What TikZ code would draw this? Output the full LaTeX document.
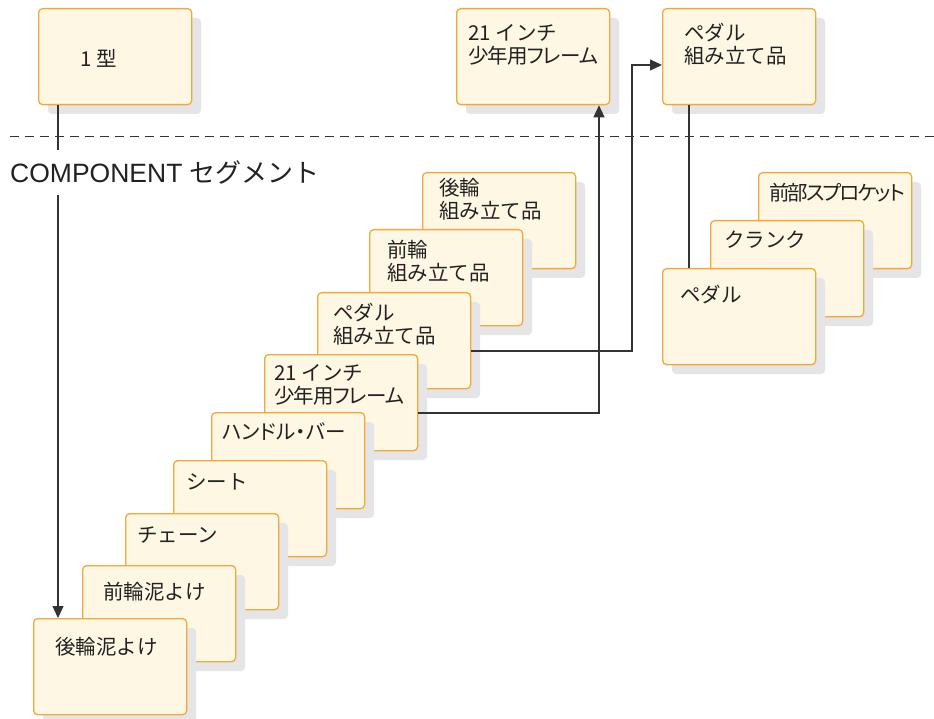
\documentclass[tikz,border=0pt]{standalone}
\usepackage{fontspec}
\setmainfont{Liberation Sans}
\newfontfamily\jp{Noto Sans CJK JP}
\newfontfamily\jpp{Noto Sans CJK JP}[RawFeature=+palt]
\newfontfamily\jppa{Noto Sans CJK JP}[RawFeature=+palt, LetterSpace=-4.5]
\newfontfamily\jppb{Noto Sans CJK JP}[RawFeature=+palt, LetterSpace=-9.5]
\usetikzlibrary{arrows.meta}
\definecolor{boxfill}{HTML}{FDF7E4}
\definecolor{boxline}{HTML}{F0AA3C}
\definecolor{shade}{HTML}{E5E5E7}
\definecolor{ink}{HTML}{222222}
\definecolor{wirec}{HTML}{333333}
\tikzset{
 pbox/.style={draw=boxline, fill=boxfill, line width=1.3pt, rounded corners=4pt, minimum width=153pt, minimum height=96pt, inner sep=0pt, anchor=north west},
 pshadow/.style={fill=shade, rounded corners=4pt},
 ptext/.style={font=\jp\fontsize{20.5}{23}\selectfont, text=ink, inner sep=0pt, align=left, anchor=west},
 wire/.style={draw=wirec, line width=1.1pt},
 arr/.style={wire, -{Triangle[length=12pt,width=11pt]}},
}
\newcommand\partbox[6]{%
 \fill[pshadow] (#2+10,#3+10) rectangle ++(153,96);
 \node[pbox] (#1) at (#2,#3) {};
 \node[ptext] (#1-t) at (#4,#5) {#6};
}
\newcommand\pk[1]{{\jpp\fontsize{20.5}{23}\selectfont #1}}
\newcommand\pka[1]{{\jppa\fontsize{20.5}{23}\selectfont #1}}
\newcommand\pkb[1]{{\jppb\fontsize{20.5}{23}\selectfont #1}}
\begin{document}
\begin{tikzpicture}[x=1pt,y=-1pt]
\useasboundingbox[fill=white] (0,0) rectangle (934,719);
% top row
\partbox{type1}{38}{8}{80}{58}{1 型}
\partbox{frameTop}{456}{8}{468}{45}{21 インチ\\\pka{少年用フレーム}}
\partbox{pedTop}{662}{8}{684}{44}{ペダル\\組み立て品}
% separator
\draw[wirec, line width=1pt, dash pattern=on 9pt off 6pt] (10,137) -- (934,137);
\node[anchor=base west, inner sep=0pt, text=ink] (seg) at (10,183)
 {\fontsize{26.5}{30}\selectfont COMPONENT {\jp\fontsize{26}{30}\selectfont セグメント}};
% middle stack
\partbox{rearA}{422}{172}{439}{199}{後輪\\組み立て品}
\partbox{frontA}{369}{229}{387}{261.5}{前輪\\組み立て品}
\partbox{pedA}{317}{292}{333}{324}{ペダル\\組み立て品}
\partbox{frame}{264}{354}{274}{385}{21 インチ\\\pka{少年用フレーム}}
\partbox{handle}{211}{412}{222}{432}{\pk{ハンドル・バー}}
\partbox{seat}{173}{460}{186}{482}{シート}
\partbox{chain}{125}{513}{137}{535}{チェーン}
\partbox{ffender}{82}{565}{103}{592}{前輪泥よけ}
\partbox{rfender}{33}{618}{55}{647}{後輪泥よけ}
% right stack
\partbox{sprocket}{758}{172}{769}{193}{\pkb{前部スプロケット}}
\partbox{crank}{710}{220}{724}{240}{クランク}
\partbox{pedal}{662}{268}{680}{295}{ペダル}
% connectors
\coordinate (c1) at (58,150);
\draw[wire] (type1.south west -| c1) -- (c1);
\coordinate (c2) at (58,195);
\draw[arr] (c2) -- (c2 |- rfender.north);
\coordinate (j1) at (599,413);
\draw[arr] (frame.east |- j1) -- (j1) -- (j1 |- frameTop.south);
\coordinate (j2) at (632,351);
\coordinate (j3) at (632,65);
\draw[arr] (pedA.east |- j2) -- (j2) -- (j3) -- (j3 -| pedTop.west);
\coordinate (j4) at (689,0);
\draw[wire] (j4 |- pedTop.south) -- (j4 |- pedal.north);
\end{tikzpicture}
\end{document}
